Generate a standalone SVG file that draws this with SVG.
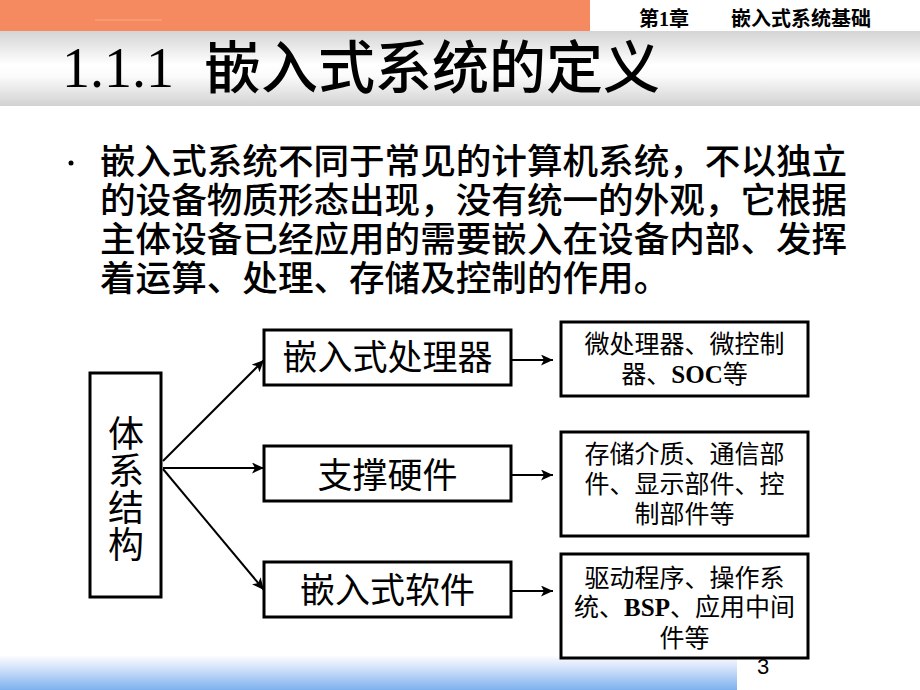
<svg xmlns="http://www.w3.org/2000/svg" width="920" height="690" viewBox="0 0 920 690">
<defs>
<linearGradient id="band" x1="0" y1="0" x2="0" y2="1">
<stop offset="0" stop-color="#d4d4d4"/>
<stop offset="0.45" stop-color="#ffffff"/>
<stop offset="0.6" stop-color="#fbfbfb"/>
<stop offset="1" stop-color="#d2d2d2"/>
</linearGradient>
<linearGradient id="blue" x1="0" y1="0" x2="0" y2="1">
<stop offset="0" stop-color="#ffffff"/>
<stop offset="0.35" stop-color="#d6e4fa"/>
<stop offset="1" stop-color="#7db1ee"/>
</linearGradient>
<marker id="arr" markerUnits="userSpaceOnUse" markerWidth="13" markerHeight="11" refX="12" refY="5.5" orient="auto">
<path d="M0,0 L12,5.5 L0,11 L3,5.5 z" fill="#000"/>
</marker>
<style>
.hd{font-family:"Liberation Serif","Noto Sans CJK SC",serif;font-size:20px;font-weight:bold;fill:#000}
.para{font-family:"Liberation Serif","Noto Sans CJK SC",sans-serif;font-size:35.6px;font-weight:500;fill:#000}
.box{fill:#fff;stroke:#000;stroke-width:3}
.lbl{font-family:"Noto Sans CJK SC",sans-serif;font-size:35px;text-anchor:middle}
.vt{font-family:"Noto Sans CJK SC",sans-serif;font-size:36px;writing-mode:vertical-rl;letter-spacing:1px}
.sm{font-family:"Liberation Serif","Noto Sans CJK SC",serif;font-size:25px;text-anchor:middle}
.lat{font-weight:bold}
.con{stroke:#000;stroke-width:2;fill:none;marker-end:url(#arr)}
</style>
</defs>
<rect id="bg" x="0" y="0" width="920" height="690" fill="#ffffff"/>
<rect x="0" y="0" width="590" height="31" fill="#f5895f"/>
<line x1="95" y1="20" x2="162" y2="20" stroke="#f8ab8a" stroke-width="1"/>
<rect x="0" y="31" width="920" height="75" fill="url(#band)"/>
<rect x="0" y="655" width="737" height="35" fill="url(#blue)"/>
<g id="header">
<text class="hd" x="639" y="26">第1章</text>
<text class="hd" x="731" y="26">嵌入式系统基础</text>
</g>
<g id="title">
<text x="62" y="87" font-family="Liberation Serif,serif" font-size="56">1.1.1</text>
<text x="204" y="88" font-family="Liberation Serif,'Noto Sans CJK SC',sans-serif" font-size="57" font-weight="500">嵌入式系统的定义</text>
</g>
<g id="paragraph">
<circle cx="71" cy="163" r="2.5" fill="#000"/>
<text class="para" x="100" y="174">嵌入式系统不同于常见的计算机系统，不以独立</text>
<text class="para" x="100" y="213">的设备物质形态出现，没有统一的外观，它根据</text>
<text class="para" x="100" y="252">主体设备已经应用的需要嵌入在设备内部、发挥</text>
<text class="para" x="100" y="291">着运算、处理、存储及控制的作用。</text>
</g>
<g id="connectors">
<line class="con" x1="163" y1="461" x2="264" y2="360"/>
<line class="con" x1="163" y1="468" x2="264" y2="468"/>
<line class="con" x1="163" y1="469" x2="264" y2="590"/>
<line class="con" x1="511" y1="360" x2="553" y2="360"/>
<line class="con" x1="511" y1="475" x2="553" y2="475"/>
<line class="con" x1="511" y1="591" x2="553" y2="591"/>
</g>
<g id="n_arch">
<rect class="box" x="90" y="373" width="71" height="224"/>
<text class="vt" x="126" y="415">体系结构</text>
</g>
<g id="n_proc">
<rect class="box" x="264" y="330" width="247" height="55"/>
<text class="lbl" x="387.5" y="370">嵌入式处理器</text>
</g>
<g id="n_hw">
<rect class="box" x="264" y="446" width="247" height="55"/>
<text class="lbl" x="387.5" y="488">支撑硬件</text>
</g>
<g id="n_sw">
<rect class="box" x="264" y="562" width="247" height="55"/>
<text class="lbl" x="387.5" y="603">嵌入式软件</text>
</g>
<g id="n_proc_d">
<rect class="box" x="561" y="322" width="247" height="74"/>
<text class="sm" x="684.5" y="353">微处理器、微控制</text>
<text class="sm" x="684.5" y="383">器、<tspan class="lat">SOC</tspan>等</text>
</g>
<g id="n_hw_d">
<rect class="box" x="561" y="432" width="247" height="104"/>
<text class="sm" x="684.5" y="463">存储介质、通信部</text>
<text class="sm" x="684.5" y="493">件、显示部件、控</text>
<text class="sm" x="684.5" y="523">制部件等</text>
</g>
<g id="n_sw_d">
<rect class="box" x="561" y="554" width="247" height="104"/>
<text class="sm" x="684.5" y="587">驱动程序、操作系</text>
<text class="sm" x="684.5" y="616">统、<tspan class="lat">BSP</tspan>、应用中间</text>
<text class="sm" x="684.5" y="647">件等</text>
</g>
<text id="page" x="757" y="674" font-family="Liberation Sans,sans-serif" font-size="22">3</text>
</svg>
